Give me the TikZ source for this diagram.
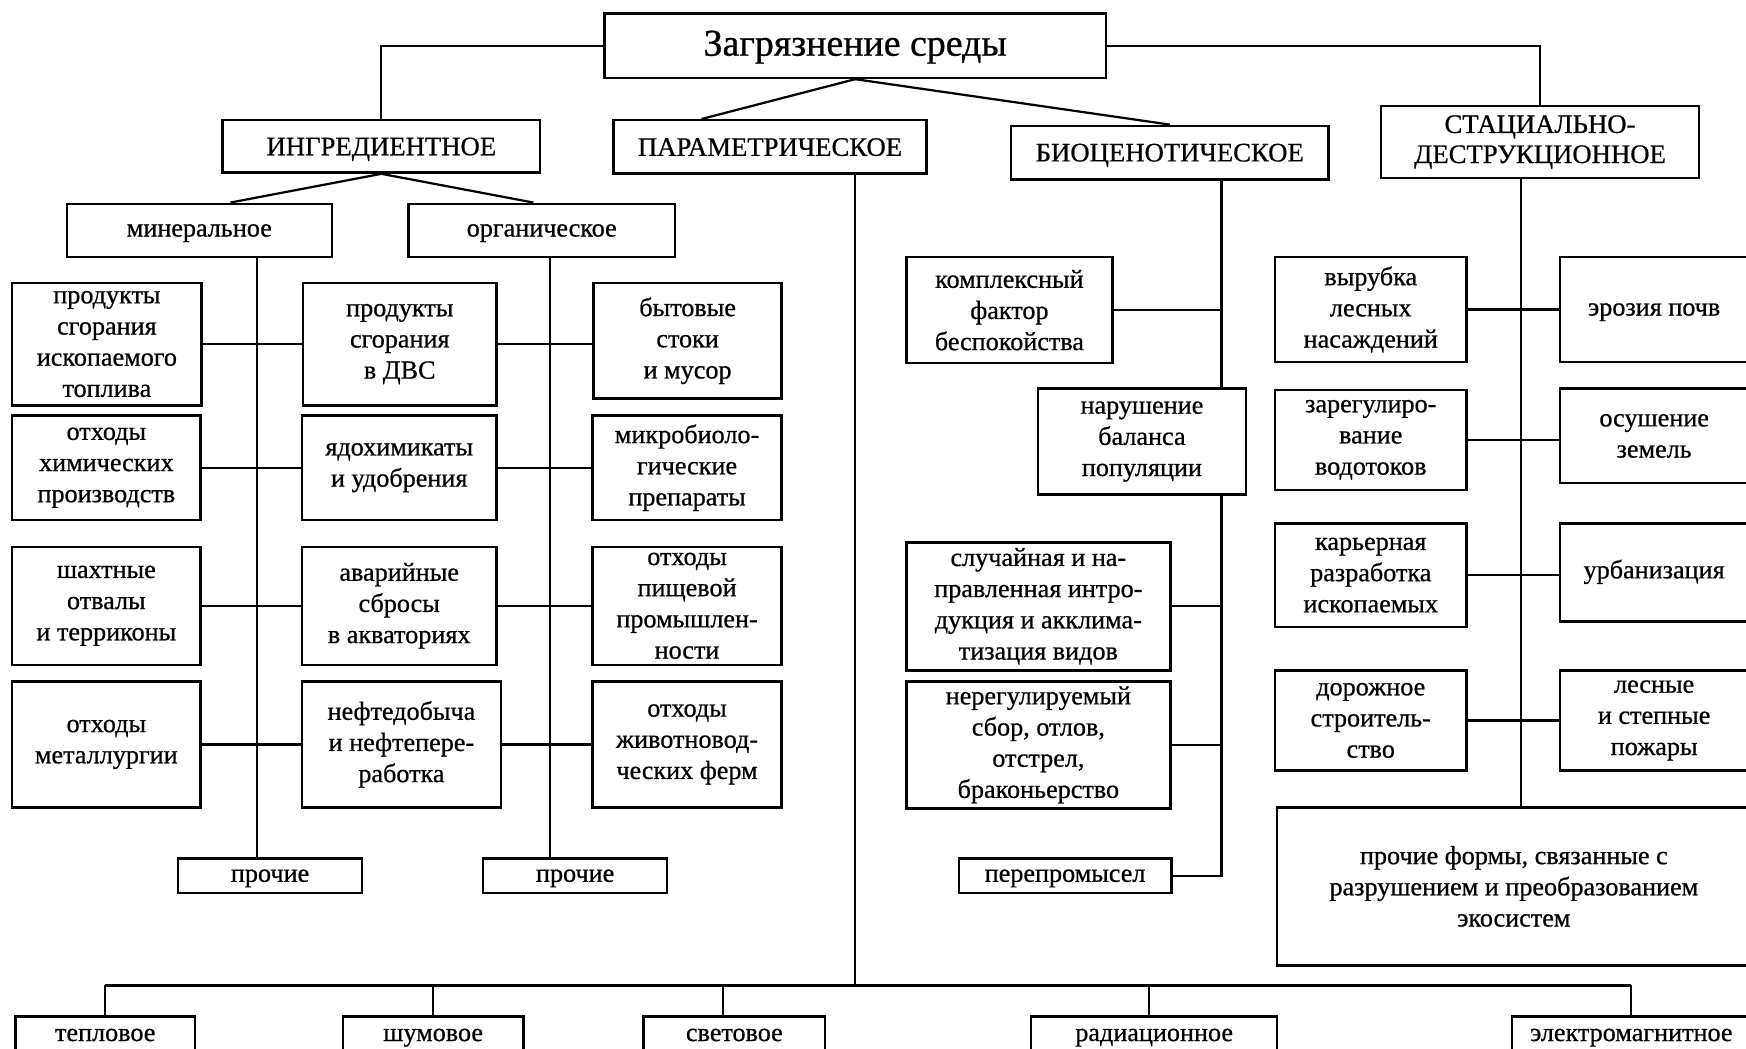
\documentclass[tikz,border=0pt]{standalone}
\usepackage{fontspec}
\setmainfont{Liberation Serif}[FakeBold=0.7]
\pgfdeclarelayer{background}
\pgfsetlayers{background,main}
\begin{document}
\begin{tikzpicture}[x=1pt,y=-1pt,
  box/.style={draw, line width=2.2pt, fill=white, align=center, inner sep=0pt, font=\fontsize{23.5}{28}\selectfont},
  hdr/.style={box, font=\fontsize{24}{27}\selectfont},
  capsty/.style={text height=15.9pt, text depth=0pt},
  lcsty/.style={text height=14.8pt, text depth=4pt},
  ln/.style={line width=2pt}]
\useasboundingbox (0,0) rectangle (1568,942);
% top level
\node[box, minimum width=450pt, minimum height=58pt, font=\fontsize{34}{40}\selectfont, text height=22pt, text depth=4pt] (title) at (768,41) {Загрязнение среды};
\node[hdr, capsty, minimum width=285pt, minimum height=47pt] (ingr) at (342.5,131.5) {ИНГРЕДИЕНТНОЕ};
\node[hdr, capsty, minimum width=281pt, minimum height=48pt] (param) at (691.5,132) {ПАРАМЕТРИЧЕСКОЕ};
\node[hdr, capsty, minimum width=285pt, minimum height=48pt] (bioc) at (1050.5,137) {БИОЦЕНОТИЧЕСКОЕ};
\node[hdr, minimum width=286pt, minimum height=65pt] (stac) at (1383,127.5) {СТАЦИАЛЬНО-\\ДЕСТРУКЦИОННОЕ};
% ingredient
\node[box, lcsty, minimum width=238pt, minimum height=48pt] (mineral) at (179,207) {минеральное};
\node[box, lcsty, minimum width=239pt, minimum height=48pt] (organic) at (486.5,207) {органическое};
\node[box, minimum width=170pt, minimum height=110pt] (L1) at (96,309) {продукты\\сгорания\\ископаемого\\топлива};
\node[box, minimum width=174pt, minimum height=110pt] (M1) at (359,309) {продукты\\сгорания\\в ДВС};
\node[box, minimum width=169pt, minimum height=104pt] (R1) at (617.5,306) {бытовые\\стоки\\и мусор};
\node[box, minimum width=169pt, minimum height=94pt] (L2) at (95.5,420) {отходы\\химических\\производств};
\node[box, minimum width=175pt, minimum height=94pt] (M2) at (358.5,420) {ядохимикаты\\и удобрения};
\node[box, minimum width=170pt, minimum height=94pt] (R2) at (617,420) {микробиоло-\\гические\\препараты};
\node[box, minimum width=169pt, minimum height=106pt] (L3) at (95.5,544) {шахтные\\отвалы\\и терриконы};
\node[box, minimum width=175pt, minimum height=106pt] (M3) at (358.5,544) {аварийные\\сбросы\\в акваториях};
\node[box, minimum width=170pt, minimum height=106pt] (R3) at (617,544) {отходы\\пищевой\\промышлен-\\ности};
\node[box, minimum width=169pt, minimum height=113pt] (L4) at (95.5,668.5) {отходы\\металлургии};
\node[box, minimum width=179pt, minimum height=113pt] (M4) at (360.5,668.5) {нефтедобыча\\и нефтепере-\\работка};
\node[box, minimum width=170pt, minimum height=113pt] (R4) at (617,668.5) {отходы\\животновод-\\ческих ферм};
\node[box, lcsty, minimum width=165pt, minimum height=31pt] (pr1) at (242.5,786.5) {прочие};
\node[box, lcsty, minimum width=165pt, minimum height=31pt] (pr2) at (516.5,786.5) {прочие};
% biocenotic
\node[box, minimum width=185pt, minimum height=95pt] (B1) at (906.5,278.5) {комплексный\\фактор\\беспокойства};
\node[box, minimum width=187pt, minimum height=95pt] (B2) at (1025.5,396.5) {нарушение\\баланса\\популяции};
\node[box, minimum width=237pt, minimum height=115pt] (B3) at (932.5,544.5) {случайная и на-\\правленная интро-\\дукция и акклима-\\тизация видов};
\node[box, minimum width=237pt, minimum height=114pt] (B4) at (932.5,669) {нерегулируемый\\сбор, отлов,\\отстрел,\\браконьерство};
\node[box, lcsty, minimum width=191pt, minimum height=31pt] (B5) at (956.5,786.5) {перепромысел};
% stacial
\node[box, minimum width=172pt, minimum height=94pt] (S1) at (1231,278) {вырубка\\лесных\\насаждений};
\node[box, lcsty, minimum width=169pt, minimum height=94pt] (S1r) at (1485.5,278) {эрозия почв};
\node[box, minimum width=172pt, minimum height=90pt] (S2) at (1231,395) {зарегулиро-\\вание\\водотоков};
\node[box, minimum width=169pt, minimum height=85pt] (S2r) at (1485.5,391.5) {осушение\\земель};
\node[box, minimum width=172pt, minimum height=93pt] (S3) at (1231,516.5) {карьерная\\разработка\\ископаемых};
\node[box, lcsty, minimum width=169pt, minimum height=88pt] (S3r) at (1485.5,514) {урбанизация};
\node[box, minimum width=172pt, minimum height=90pt] (S4) at (1231,647) {дорожное\\строитель-\\ство};
\node[box, minimum width=169pt, minimum height=90pt] (S4r) at (1485.5,647) {лесные\\и степные\\пожары};
\node[box, minimum width=425pt, minimum height=142pt] (S5) at (1359.5,796) {прочие формы, связанные с\\разрушением и преобразованием\\экосистем};
% bottom
\node[box, lcsty, minimum width=161pt, minimum height=33pt] (teplo) at (94.5,929.5) {тепловое};
\node[box, lcsty, minimum width=162pt, minimum height=33pt] (shum) at (389,929.5) {шумовое};
\node[box, lcsty, minimum width=163pt, minimum height=33pt] (svet) at (659.5,929.5) {световое};
\node[box, lcsty, minimum width=221pt, minimum height=33pt] (rad) at (1036.5,929.5) {радиационное};
\node[box, lcsty, minimum width=214pt, minimum height=33pt] (elmag) at (1465,929.5) {электромагнитное};
\coordinate (bus) at (0,885);
\begin{pgfonlayer}{background}
\fill[white] (0,0) rectangle (1568,942);
\draw[ln] (title.west) -| (ingr.north);
\draw[ln] (title.east) -| (stac.north);
\draw[ln] (title.south) -- ([xshift=-61.5pt]param.north);
\draw[ln] (title.south) -- (bioc.north);
\draw[ln] (ingr.south) -- ([xshift=28pt]mineral.north);
\draw[ln] (ingr.south) -- ([xshift=-7.5pt]organic.north);
\coordinate (mt) at ([xshift=52pt]mineral.south);
\coordinate (ot) at ([xshift=7.5pt]organic.south);
\draw[ln] (mt) -- (mt |- pr1.north);
\draw[ln] (ot) -- (ot |- pr2.north);
\draw[ln] (L1.east) -- (M1.west);
\draw[ln] (M1.east) -- (M1.east -| R1.west);
\draw[ln] (L2.east) -- (M2.west);
\draw[ln] (M2.east) -- (R2.west);
\draw[ln] (L3.east) -- (M3.west);
\draw[ln] (M3.east) -- (R3.west);
\draw[ln] (L4.east) -- (M4.west);
\draw[ln] (M4.east) -- (R4.west);
% parametric
\coordinate (pt) at ([xshift=76.5pt]param.south);
\draw[ln] (pt) -- (pt |- bus);
\draw[ln] (teplo.north |- bus) -- (elmag.north |- bus);
\draw[ln] (teplo.north) -- (teplo.north |- bus);
\draw[ln] (shum.north) -- (shum.north |- bus);
\draw[ln] ([xshift=-10.5pt]svet.north) -- ([xshift=-10.5pt]svet.north |- bus);
\draw[ln] ([xshift=-4.5pt]rad.north) -- ([xshift=-4.5pt]rad.north |- bus);
\draw[ln] (elmag.north) -- (elmag.north |- bus);
% biocenotic
\coordinate (bt) at ([xshift=46.5pt]bioc.south);
\draw[ln] (bt) |- (B5.east);
\draw[ln] (B1.east) -- (B1.east -| bt);
\draw[ln] (B3.east) -- (B3.east -| bt);
\draw[ln] (B4.east) -- (B4.east -| bt);
% stacial
\coordinate (st) at ([xshift=-17pt]stac.south);
\draw[ln] (st) -- (st |- S5.north);
\draw[ln] (S1.east) -- (S1r.west);
\draw[ln] (S2.east) -- (S2.east -| S2r.west);
\draw[ln] (S3.east) -- (S3.east -| S3r.west);
\draw[ln] (S4.east) -- (S4r.west);
\end{pgfonlayer}
\end{tikzpicture}
\end{document}
